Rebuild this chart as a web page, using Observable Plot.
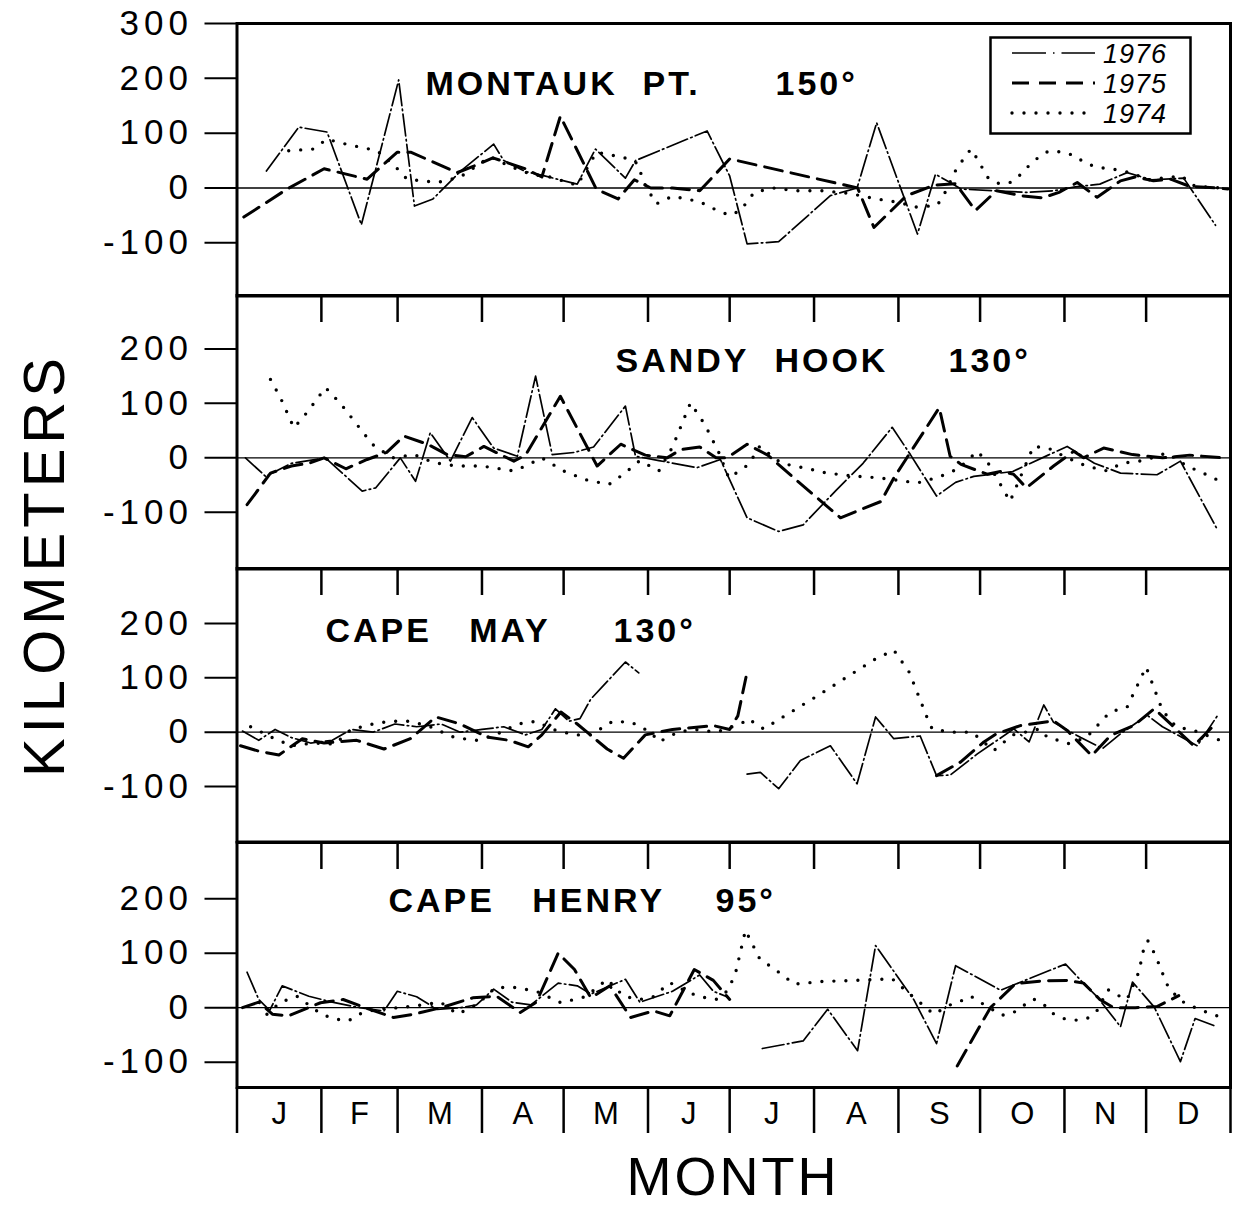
<!DOCTYPE html>
<html><head><meta charset="utf-8">
<script src="https://cdn.jsdelivr.net/npm/d3@7"></script>
<script src="https://cdn.jsdelivr.net/npm/@observablehq/plot@0.6"></script>
<style>
body{margin:0;background:#fff;}
#fig{position:relative;width:1241px;height:1209px;overflow:hidden;font-family:"Liberation Sans",Arial,sans-serif;color:#000;}
#fig svg{position:absolute;left:0;}
.lab{position:absolute;white-space:pre;line-height:0.8;}
</style></head><body><div id="fig"></div>
<script>
// ---------- data (day of year, kilometers) ----------
const months = ["J","F","M","A","M","J","J","A","S","O","N","D"];
const monthStart = [0,31,59,90,120,151,181,212,243,273,304,334,365];
const years = ["1976","1975","1974"];
const stationNames = ["MONTAUK\u00a0\u00a0PT.","SANDY\u00a0\u00a0HOOK","CAPE\u00a0\u00a0\u00a0MAY","CAPE\u00a0\u00a0\u00a0HENRY"];
const stationAngles = ["150°","130°","130°","95°"];
const yTicksTop = [-100,0,100,200,300];
const yTicks = [-100,0,100,200];

const montauk1976 = [[10.8,31],[22.7,111],[33.1,102],[45.7,-67],[59.4,197],[65.2,-33],[72,-20],[82,30],[94.3,80],[98,50],[106,30],[113,22],[125,7],[131.7,71],[142.7,18],[146.4,50],[172.7,104],[181,22],[187.4,-102],[199,-98],[218,-14],[227.8,0],[235,119],[250,-84],[256.6,25],[262,10],[266,-2],[278,-5],[290,-8],[300,-5],[308,2],[317,7],[327,28],[336,15],[347.8,18],[359.5,-68]];
const montauk1975 = [[2.5,-53],[18.4,-2],[32,35],[47.8,16],[58.8,65],[64,65],[80.9,28],[87,40],[94,55],[100,45],[106,35],[112,20],[118.8,131],[132,-2],[140,-20],[146,15],[152,0],[160,0],[170,-5],[181,53],[228,0],[234,-72],[246,-14],[256,5],[264,8],[271.3,-41],[279,-5],[288,-14],[296,-18],[302,-8],[308.7,10],[316,-17],[324.6,13],[330,20],[336.7,13],[343,16],[350,3],[360,0],[364,-2]];
const montauk1974 = [[19,68],[28,71],[33,89],[40,80],[51.5,68],[58,40],[62.5,16],[73.5,10],[82,20],[93,57],[100,40],[108,25],[115,20],[125,5],[132,65],[142,56],[147,45],[150,5],[154,-29],[160,-15],[170,-25],[176,-40],[181,-50],[185,-41],[190,-8],[197,0],[205,-5],[215,-5],[225,-10],[235,-20],[244,-27],[249,-35],[257,-32],[259,-20],[264.6,38],[267,53],[269.6,71],[272,53],[274,35],[276,18],[280,8],[284,10],[288,25],[291,41],[294,54],[298,67],[303,66],[307.7,59],[311.7,45],[316,38],[325,32],[328,28],[335,15],[340,18],[347,22],[352,3],[362,0]];

const sandy1976 = [[3.1,0],[10.5,-34],[20,-10],[32.5,0],[46,-61],[51,-55],[60,0],[65.6,-43],[71,46],[78.4,-6],[86.4,74],[94.3,18],[103,3],[109.7,150],[115.8,6],[124,10],[131,20],[142.7,95],[146.4,3],[155,-5],[169,-18],[177.6,-3],[187.4,-110],[199,-135],[208,-123],[220,-60],[230,-10],[240.7,56],[247.4,6],[257,-70],[264,-45],[270.7,-34],[285,-25],[298,5],[305,21],[315,-10],[324.6,-28],[338,-31],[346.6,-6],[360,-130]];
const sandy1975 = [[3.7,-86],[12.3,-28],[20,-15],[27,-9],[32,0],[40,-20],[47.8,-3],[55,10],[61.3,40],[70,25],[77.2,6],[84,2],[90.7,21],[101.7,-6],[106,5],[118.8,113],[132.3,-15],[141,25],[150,5],[158,0],[163,15],[170,20],[176,0],[180,0],[187.4,25],[195,5],[206,-43],[214,-77],[221.7,-110],[236.6,-80],[241.3,-37],[258,92],[262,3],[266,-12],[275.6,-30],[280.5,-25],[285.3,-30],[290,-55],[300,-15],[307.4,12],[311,0],[318.4,18],[329,6],[340,0],[350,5],[362,0]];
const sandy1974 = [[12.3,144],[16,110],[20.9,55],[26,85],[32.5,129],[38,100],[49.7,25],[57,0],[65,6],[72.3,-9],[81,-15],[90,-15],[101.7,-24],[106,-15],[112,0],[120,-24],[128,-40],[136.6,-49],[142,-30],[148,-5],[155,-24],[160,20],[166.6,101],[172,60],[177,10],[180.7,-37],[188,-12],[192,21],[200,-10],[210,-20],[216.8,-28],[226,-33],[236.4,-37],[250,-46],[258,-35],[265,-20],[272,12],[276,-10],[280.5,-49],[284,-80],[292.6,21],[298,18],[305,0],[312,-15],[319.7,-24],[325,-10],[333,-5],[341.6,9],[349,-15],[355,-28],[360,-40]];

const capemay1976 = [[2,2],[8,-15],[14,5],[20,-10],[27,-20],[35,-15],[42,5],[50,0],[58,15],[66,10],[75,15],[82,0],[90,5],[98,10],[106,-5],[112,5],[117,43],[122,20],[126,25],[130,61],[142.7,129],[147.6,109],[165,NaN],[187.4,-77],[192.3,-74],[199,-104],[207,-52],[218,-25],[227.8,-95],[234.6,28],[241.3,-12],[251,-7],[257,-80],[262,-79],[272,-40],[285.4,6],[291,-18],[296.4,50],[300,18],[310,-10],[318,-30],[324.6,-3],[334.4,31],[340,10],[352.8,-25],[360.7,34]];
const capemay1975 = [[1.3,-25],[8,-35],[15.4,-42],[24,-12],[32,-20],[44,-15],[54,-31],[63.7,-12],[73,28],[82,15],[92,-9],[100,-15],[107,-27],[112,-5],[119,37],[125,15],[136,-31],[142,-48],[150,-5],[160,5],[175,12],[181,5],[184,30],[187,101],[220,NaN],[257,-80],[265.8,-55],[274.4,-18],[279,-3],[287.8,12],[300,21],[305,3],[314,-43],[321,-6],[329.4,12],[337,43],[342,20],[351.5,-25],[360,18]];
const capemay1974 = [[5,10],[13,-10],[20,-25],[28,-20],[36,-22],[42,5],[50,15],[56,20],[63,20],[70,12],[80,-10],[88,-15],[95,-5],[103,15],[110,20],[116,5],[124,-5],[130,-5],[138,20],[145,18],[152,0],[155,-18],[162,0],[168,5],[176,0],[185,15],[188,25],[191,13],[193.5,6],[198,20],[212,63],[223,98],[234,133],[241.3,151],[247,110],[253.6,26],[255.4,6],[262,0],[270,0],[278,-34],[285,-5],[295,6],[297.6,-9],[305.6,-21],[312,-10],[320.7,37],[327,46],[334,120],[340,40],[345,10],[351.5,3],[360.7,-14]];

const henry1976 = [[3.7,65],[8,15],[12,-5],[16.6,40],[26.4,21],[35,10],[45,0],[54,-6],[58.9,30],[66,20],[73.5,-3],[82,0],[88,5],[94.3,34],[101,10],[108,5],[118,45],[125,40],[130,25],[142.7,52],[148,10],[160,30],[170,60],[175,30],[180,20],[186,NaN],[193,-75],[208,-61],[217,-3],[228,-79],[234.6,114],[248.6,15],[257,-66],[264,77],[280.5,32],[304.4,80],[310,50],[316,20],[324.6,-35],[329,47],[337,1],[346.6,-99],[352,-20],[360,-35]];
const henry1975 = [[2,0],[8,10],[13,-12],[19,-15],[30.7,9],[39,15],[47,0],[57.5,-18],[65,-12],[75,0],[86.6,18],[95.4,21],[104,-9],[110,10],[118,100],[124,70],[130,18],[137,40],[144.6,-18],[153,-6],[159,-15],[168,70],[175,50],[181,15],[220,NaN],[264.6,-107],[276.8,0],[286,44],[296,49],[305,50],[311,45],[317,15],[322,0],[330,0],[338,2],[346,22]];
const henry1974 = [[11,-12],[16,10],[22,21],[31,-12],[36,-21],[41,-24],[44.7,-12],[52,-2],[60,0],[68,5],[74.8,10],[81,-12],[88,5],[95,37],[102,37],[110,30],[119,9],[128,20],[136,52],[142,21],[148,15],[153,20],[159,46],[165,30],[170,20],[176,15],[180,30],[183,60],[186.8,142],[192,90],[201,58],[204.6,43],[215,48],[227,50],[240.7,53],[246,30],[251,9],[256,-12],[262,5],[265,10],[269.6,21],[273,10],[281,-14],[285,-10],[289,4],[292.6,16],[296.4,6],[299.5,-10],[303.6,-20],[308,-23],[312.3,-20],[316,-5],[320,33],[323,24],[327,15],[331.3,65],[333,105],[334.6,123],[336.8,102],[338.7,80],[341.6,43],[346,15],[350,4],[354.6,-5],[358,-12],[362,-18]];

// ---------- layout / styles ----------
const FONT = "'Liberation Sans', Arial, sans-serif";
const lineStyles = {
  "1976": {strokeWidth: 1.7, strokeDasharray: "22,3.5,1.5,3.5"},
  "1975": {strokeWidth: 3, strokeDasharray: "18,9"},
  "1974": {strokeWidth: 3.4, strokeDasharray: "0,12", strokeLinecap: "round"}
};
const panels = [
  {top: 22.5, bottom: 295, domain: [-197, 300], ticks: yTicksTop, monthTicks: false, nameDx: 188.5, angleDx: 538.5, dy: 47.5, series: [montauk1976, montauk1975, montauk1974]},
  {top: 294.5, bottom: 568, domain: [-204, 298], ticks: yTicks, monthTicks: true, nameDx: 378.5, angleDx: 711.5, dy: 52, series: [sandy1976, sandy1975, sandy1974]},
  {top: 568, bottom: 841.5, domain: [-202, 301], ticks: yTicks, monthTicks: true, nameDx: 88.5, angleDx: 376.5, dy: 49, series: [capemay1976, capemay1975, capemay1974]},
  {top: 841.5, bottom: 1086.5, domain: [-146.5, 303], ticks: yTicks, monthTicks: true, nameDx: 151.5, angleDx: 478.5, dy: 45, series: [henry1976, henry1975, henry1974]}
];
const M = 22, LEFT = 236.5, RIGHT = 11, W = 1241;
const fig = document.getElementById("fig");

panels.forEach((p, i) => {
  const inner = p.bottom - p.top;
  const marks = [
    Plot.axisY(p.ticks, {tickSize: 32, tickPadding: 12, label: null, strokeWidth: 2, fontSize: 35,
      tickFormat: d => d < 0 ? "-" + (-d) : String(d)}),
    Plot.ruleY([0], {strokeWidth: 1.4})
  ];
  if (p.monthTicks) marks.push(Plot.ruleX(monthStart.slice(1, 12), {x: d => d, insetBottom: inner - 27, strokeWidth: 2.5}));
  [2, 1, 0].forEach(k => {
    marks.push(Plot.line(p.series[k], {x: d => d[0], y: d => d[1], stroke: "#000", strokeLinejoin: "round", ...lineStyles[years[k]]}));
  });
  marks.push(Plot.frame({strokeWidth: 3}));
  marks.push(Plot.text([stationNames[i]], {frameAnchor: "top-left", dx: p.nameDx, dy: p.dy, textAnchor: "start", lineAnchor: "top", fontSize: 34, fontWeight: "bold"}));
  marks.push(Plot.text([stationAngles[i]], {frameAnchor: "top-left", dx: p.angleDx, dy: p.dy, textAnchor: "start", lineAnchor: "top", fontSize: 34, fontWeight: "bold"}));
  const svg = Plot.plot({
    width: W, height: inner + 2 * M,
    marginTop: M, marginBottom: M, marginLeft: LEFT, marginRight: RIGHT,
    x: {domain: [0, 365], axis: null},
    y: {domain: p.domain, axis: null},
    style: {fontFamily: FONT, fontSize: "35px", background: "transparent", overflow: "visible", color: "#000"},
    marks
  });
  svg.style.top = (p.top - M) + "px";
  d3.select(svg).selectAll('g[aria-label="y-axis tick label"] text').attr("letter-spacing", 5);
  d3.select(svg).selectAll('g[aria-label="text"] text').attr("letter-spacing", 3);
  fig.appendChild(svg);
});

// month strip
{
  const top = 1086.5, inner = 46;
  const strip = Plot.plot({
    width: W, height: inner + 2 * M,
    marginTop: M, marginBottom: M, marginLeft: LEFT, marginRight: RIGHT,
    x: {domain: [0, 365], axis: null},
    y: {axis: null},
    style: {fontFamily: FONT, fontSize: "31px", background: "transparent", overflow: "visible"},
    marks: [
      Plot.ruleX(monthStart, {x: d => d, strokeWidth: 2.5}),
      Plot.text(months, {x: (d, i) => (monthStart[i] + monthStart[i + 1]) / 2, frameAnchor: "middle", dy: 4, fontSize: 31})
    ]
  });
  strip.style.top = (top - M) + "px";
  fig.appendChild(strip);
}

// legend
{
  const lg = d3.create("svg").attr("width", 204).attr("height", 100)
    .style("left", "989px").style("top", "36px");
  lg.append("rect").attr("x", 1.5).attr("y", 1.5).attr("width", 200).attr("height", 96)
    .attr("fill", "#fff").attr("stroke", "#000").attr("stroke-width", 2.5);
  years.forEach((y, k) => {
    const s = lineStyles[y];
    const yy = 17 + k * 30;
    lg.append("line").attr("x1", 23).attr("x2", 106).attr("y1", yy).attr("y2", yy)
      .attr("stroke", "#000").attr("stroke-width", s.strokeWidth)
      .attr("stroke-dasharray", y === "1976" ? "34,7,1.5,7,34" : y === "1975" ? "17,10" : s.strokeDasharray)
      .attr("stroke-linecap", s.strokeLinecap || "butt");
    lg.append("text").attr("x", 114).attr("y", yy + 10).text(y)
      .attr("font-family", FONT).attr("font-style", "italic").attr("font-size", 27).attr("letter-spacing", 1);
  });
  fig.appendChild(lg.node());
}

// axis titles
{
  const k = document.createElement("div");
  k.className = "lab";
  k.textContent = "KILOMETERS";
  Object.assign(k.style, {fontSize: "58px", letterSpacing: "5px", left: "44px", top: "565px",
    transform: "translate(-50%,-50%) rotate(-90deg)", transformOrigin: "center"});
  fig.appendChild(k);
  const m = document.createElement("div");
  m.className = "lab";
  m.textContent = "MONTH";
  Object.assign(m.style, {fontSize: "54px", letterSpacing: "3px", left: "733px", top: "1177px",
    transform: "translate(-50%,-50%)"});
  fig.appendChild(m);
}
</script></body></html>
